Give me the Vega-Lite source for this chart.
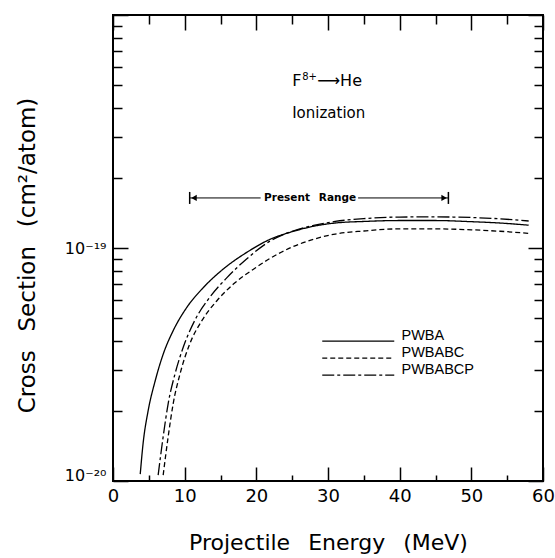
{
  "$schema": "https://vega.github.io/schema/vega-lite/v6.json",
  "width": 430,
  "height": 466,
  "autosize": "none",
  "padding": {"left": 113, "top": 15, "right": 12, "bottom": 77},
  "background": "white",
  "config": {
    "view": {"stroke": "black", "strokeWidth": 2},
    "axis": {"grid": false, "domain": false, "tickColor": "black", "tickWidth": 1.5, "labelColor": "black", "titleColor": "black", "labelFont": "DejaVu Sans", "titleFont": "DejaVu Sans", "titleFontWeight": "normal", "labelFlush": false, "labelOverlap": false},
    "legend": {"orient": "none", "legendX": 238, "legendY": 314, "padding": 0, "symbolType": "M-6,0.8H6", "symbolSize": 144, "symbolStrokeWidth": 1.3, "symbolStrokeColor": "black", "symbolFillColor": "transparent", "labelFont": "Liberation Sans", "labelFontSize": 14.5, "labelColor": "black", "labelOffset": 36, "rowPadding": 1}
  },
  "resolve": {"axis": {"x": "independent", "y": "independent"}},
  "layer": [
    {
      "data": {"values": [
        {"model": "PWBA", "E": 3.8, "sigma": 1.07e-20},
        {"model": "PWBA", "E": 4.2, "sigma": 1.45e-20},
        {"model": "PWBA", "E": 4.9, "sigma": 2.0e-20},
        {"model": "PWBA", "E": 5.9, "sigma": 2.7e-20},
        {"model": "PWBA", "E": 7.0, "sigma": 3.5e-20},
        {"model": "PWBA", "E": 8.4, "sigma": 4.42e-20},
        {"model": "PWBA", "E": 10.3, "sigma": 5.56e-20},
        {"model": "PWBA", "E": 12.6, "sigma": 6.76e-20},
        {"model": "PWBA", "E": 15.4, "sigma": 8.13e-20},
        {"model": "PWBA", "E": 18.6, "sigma": 9.55e-20},
        {"model": "PWBA", "E": 21.9, "sigma": 1.089e-19},
        {"model": "PWBA", "E": 25, "sigma": 1.175e-19},
        {"model": "PWBA", "E": 28, "sigma": 1.24e-19},
        {"model": "PWBA", "E": 31, "sigma": 1.28e-19},
        {"model": "PWBA", "E": 35, "sigma": 1.30e-19},
        {"model": "PWBA", "E": 40, "sigma": 1.312e-19},
        {"model": "PWBA", "E": 45, "sigma": 1.312e-19},
        {"model": "PWBA", "E": 50, "sigma": 1.297e-19},
        {"model": "PWBA", "E": 54, "sigma": 1.28e-19},
        {"model": "PWBA", "E": 58, "sigma": 1.253e-19},
        {"model": "PWBABC", "E": 7.0, "sigma": 1.06e-20},
        {"model": "PWBABC", "E": 7.7, "sigma": 1.55e-20},
        {"model": "PWBABC", "E": 8.4, "sigma": 2.15e-20},
        {"model": "PWBABC", "E": 9.35, "sigma": 2.88e-20},
        {"model": "PWBABC", "E": 10.7, "sigma": 3.87e-20},
        {"model": "PWBABC", "E": 12.4, "sigma": 4.88e-20},
        {"model": "PWBABC", "E": 14.5, "sigma": 5.94e-20},
        {"model": "PWBABC", "E": 16.8, "sigma": 7.0e-20},
        {"model": "PWBABC", "E": 19.6, "sigma": 8.11e-20},
        {"model": "PWBABC", "E": 21.9, "sigma": 9.02e-20},
        {"model": "PWBABC", "E": 25, "sigma": 1.01e-19},
        {"model": "PWBABC", "E": 28, "sigma": 1.09e-19},
        {"model": "PWBABC", "E": 31, "sigma": 1.148e-19},
        {"model": "PWBABC", "E": 35, "sigma": 1.183e-19},
        {"model": "PWBABC", "E": 40, "sigma": 1.208e-19},
        {"model": "PWBABC", "E": 45, "sigma": 1.208e-19},
        {"model": "PWBABC", "E": 50, "sigma": 1.197e-19},
        {"model": "PWBABC", "E": 54, "sigma": 1.18e-19},
        {"model": "PWBABC", "E": 58, "sigma": 1.156e-19},
        {"model": "PWBABCP", "E": 6.3, "sigma": 1.06e-20},
        {"model": "PWBABCP", "E": 7.0, "sigma": 1.55e-20},
        {"model": "PWBABCP", "E": 7.7, "sigma": 2.15e-20},
        {"model": "PWBABCP", "E": 8.65, "sigma": 2.88e-20},
        {"model": "PWBABCP", "E": 9.8, "sigma": 3.75e-20},
        {"model": "PWBABCP", "E": 11.4, "sigma": 4.88e-20},
        {"model": "PWBABCP", "E": 13.5, "sigma": 6.14e-20},
        {"model": "PWBABCP", "E": 15.9, "sigma": 7.46e-20},
        {"model": "PWBABCP", "E": 18.6, "sigma": 8.95e-20},
        {"model": "PWBABCP", "E": 21.9, "sigma": 1.07e-19},
        {"model": "PWBABCP", "E": 25, "sigma": 1.18e-19},
        {"model": "PWBABCP", "E": 28, "sigma": 1.25e-19},
        {"model": "PWBABCP", "E": 31, "sigma": 1.30e-19},
        {"model": "PWBABCP", "E": 35, "sigma": 1.337e-19},
        {"model": "PWBABCP", "E": 40, "sigma": 1.358e-19},
        {"model": "PWBABCP", "E": 45, "sigma": 1.36e-19},
        {"model": "PWBABCP", "E": 50, "sigma": 1.352e-19},
        {"model": "PWBABCP", "E": 54, "sigma": 1.334e-19},
        {"model": "PWBABCP", "E": 58, "sigma": 1.306e-19}
      ]},
      "mark": {"type": "line", "color": "black", "strokeWidth": 1.3, "interpolate": "monotone", "clip": true},
      "encoding": {
        "x": {"field": "E", "type": "quantitative", "scale": {"domain": [0, 60], "nice": false, "zero": false},
          "axis": {"orient": "bottom", "values": [0, 10, 20, 30, 40, 50, 60], "offset": -14, "tickSize": 14,
            "labelPadding": 6, "labelFontSize": 18,
            "title": "Projectile \u2002Energy \u2002(MeV)", "titleFontSize": 22, "titleY": 82, "titleBaseline": "alphabetic"}},
        "y": {"field": "sigma", "type": "quantitative", "scale": {"type": "log", "domain": [1e-20, 1e-18], "nice": false},
          "axis": {"orient": "left", "values": [1e-20, 1e-19, 1e-18], "offset": -15, "tickSize": 15,
            "labelExpr": "datum.value < 1.5e-20 ? '10⁻²⁰' : (datum.value < 1.5e-19 ? '10⁻¹⁹' : '')",
            "labelOffset": {"condition": {"test": "datum.value < 1.5e-20", "value": -6}, "value": 0},
            "labelPadding": 7, "labelFontSize": 16,
            "title": "Cross \u2002Section \u2002(cm²/atom)", "titleFontSize": 23, "titleX": -94, "titleY": 240, "titleBaseline": "alphabetic", "titleAngle": -90}},
        "strokeDash": {"field": "model", "type": "nominal", "scale": {"domain": ["PWBA", "PWBABC", "PWBABCP"], "range": [[1, 0], [5, 3], [12, 3, 3, 3]]}, "legend": {"title": null}}
      }
    },
    {
      "data": {"values": [
        {"E": 10.7, "E2": 20.6, "sigma": 1.64e-19},
        {"E": 34.2, "E2": 46.8, "sigma": 1.64e-19}
      ]},
      "mark": {"type": "rule", "color": "black", "strokeWidth": 1},
      "encoding": {
        "x": {"field": "E", "type": "quantitative", "scale": {"domain": [0, 60], "nice": false, "zero": false},
          "axis": {"orient": "bottom", "values": [5, 15, 25, 35, 45, 55], "offset": -6, "tickSize": 6, "labels": false, "title": null}},
        "x2": {"field": "E2"},
        "y": {"field": "sigma", "type": "quantitative", "scale": {"type": "log", "domain": [1e-20, 1e-18], "nice": false},
          "axis": {"orient": "left", "values": [2e-20, 3e-20, 4e-20, 5e-20, 6e-20, 7e-20, 8e-20, 9e-20, 2e-19, 3e-19, 4e-19, 5e-19, 6e-19, 7e-19, 8e-19, 9e-19], "offset": -9, "tickSize": 9, "labels": false, "title": null}}
      }
    },
    {
      "data": {"values": [
        {"E": 11.3, "sigma": 1.64e-19, "dir": "left"},
        {"E": 46.2, "sigma": 1.64e-19, "dir": "right"}
      ]},
      "mark": {"type": "point", "filled": true, "color": "black", "size": 40, "opacity": 1},
      "encoding": {
        "x": {"field": "E", "type": "quantitative", "scale": {"domain": [0, 60], "nice": false, "zero": false},
          "axis": {"orient": "top", "values": [0, 10, 20, 30, 40, 50, 60], "offset": -15, "tickSize": 15, "labels": false, "title": null}},
        "y": {"field": "sigma", "type": "quantitative", "scale": {"type": "log", "domain": [1e-20, 1e-18], "nice": false},
          "axis": {"orient": "right", "values": [1e-20, 1e-19, 1e-18], "offset": -15, "tickSize": 15, "labels": false, "title": null}},
        "shape": {"field": "dir", "type": "nominal", "scale": {"domain": ["left", "right"], "range": ["triangle-left", "triangle-right"]}, "legend": null}
      }
    },
    {
      "data": {"values": [
        {"E": 10.7, "sigma": 1.64e-19},
        {"E": 46.8, "sigma": 1.64e-19}
      ]},
      "mark": {"type": "point", "shape": "M0,-1V1", "filled": false, "stroke": "black", "strokeWidth": 1.5, "size": 144, "opacity": 1},
      "encoding": {
        "x": {"field": "E", "type": "quantitative", "scale": {"domain": [0, 60], "nice": false, "zero": false},
          "axis": {"orient": "top", "values": [5, 15, 25, 35, 45, 55], "offset": -9, "tickSize": 9, "labels": false, "title": null}},
        "y": {"field": "sigma", "type": "quantitative", "scale": {"type": "log", "domain": [1e-20, 1e-18], "nice": false},
          "axis": {"orient": "right", "values": [2e-20, 3e-20, 4e-20, 5e-20, 6e-20, 7e-20, 8e-20, 9e-20, 2e-19, 3e-19, 4e-19, 5e-19, 6e-19, 7e-19, 8e-19, 9e-19], "offset": -9, "tickSize": 9, "labels": false, "title": null}}
      }
    },
    {
      "data": {"values": [{"E": 27.5, "sigma": 1.64e-19, "label": "Present \u2002Range"}]},
      "mark": {"type": "text", "font": "DejaVu Sans", "fontWeight": "bold", "fontSize": 10.5, "align": "center", "baseline": "middle", "color": "black"},
      "encoding": {
        "x": {"field": "E", "type": "quantitative", "scale": {"domain": [0, 60], "nice": false, "zero": false}, "axis": null},
        "y": {"field": "sigma", "type": "quantitative", "scale": {"type": "log", "domain": [1e-20, 1e-18], "nice": false}, "axis": null},
        "text": {"field": "label"}
      }
    },
    {
      "data": {"values": [{"E": 25.0, "sigma": 4.98e-19, "label": "F"}]},
      "mark": {"type": "text", "font": "DejaVu Sans", "fontSize": 16, "align": "left", "baseline": "alphabetic", "color": "black"},
      "encoding": {
        "x": {"field": "E", "type": "quantitative", "scale": {"domain": [0, 60], "nice": false, "zero": false}, "axis": null},
        "y": {"field": "sigma", "type": "quantitative", "scale": {"type": "log", "domain": [1e-20, 1e-18], "nice": false}, "axis": null},
        "text": {"field": "label"}
      }
    },
    {
      "data": {"values": [{"E": 25.0, "sigma": 4.98e-19, "label": "8+"}]},
      "mark": {"type": "text", "font": "DejaVu Sans", "fontSize": 10, "align": "left", "baseline": "alphabetic", "color": "black", "dx": 10, "dy": -6},
      "encoding": {
        "x": {"field": "E", "type": "quantitative", "scale": {"domain": [0, 60], "nice": false, "zero": false}, "axis": null},
        "y": {"field": "sigma", "type": "quantitative", "scale": {"type": "log", "domain": [1e-20, 1e-18], "nice": false}, "axis": null},
        "text": {"field": "label"}
      }
    },
    {
      "data": {"values": [{"E": 25.0, "sigma": 4.98e-19, "label": "⟶He"}]},
      "mark": {"type": "text", "font": "DejaVu Sans", "fontSize": 16, "align": "left", "baseline": "alphabetic", "color": "black", "dx": 25},
      "encoding": {
        "x": {"field": "E", "type": "quantitative", "scale": {"domain": [0, 60], "nice": false, "zero": false}, "axis": null},
        "y": {"field": "sigma", "type": "quantitative", "scale": {"type": "log", "domain": [1e-20, 1e-18], "nice": false}, "axis": null},
        "text": {"field": "label"}
      }
    },
    {
      "data": {"values": [{"E": 25.0, "sigma": 3.63e-19, "label": "Ionization"}]},
      "mark": {"type": "text", "font": "DejaVu Sans", "fontSize": 15, "align": "left", "baseline": "alphabetic", "color": "black"},
      "encoding": {
        "x": {"field": "E", "type": "quantitative", "scale": {"domain": [0, 60], "nice": false, "zero": false}, "axis": null},
        "y": {"field": "sigma", "type": "quantitative", "scale": {"type": "log", "domain": [1e-20, 1e-18], "nice": false}, "axis": null},
        "text": {"field": "label"}
      }
    }
  ]
}
